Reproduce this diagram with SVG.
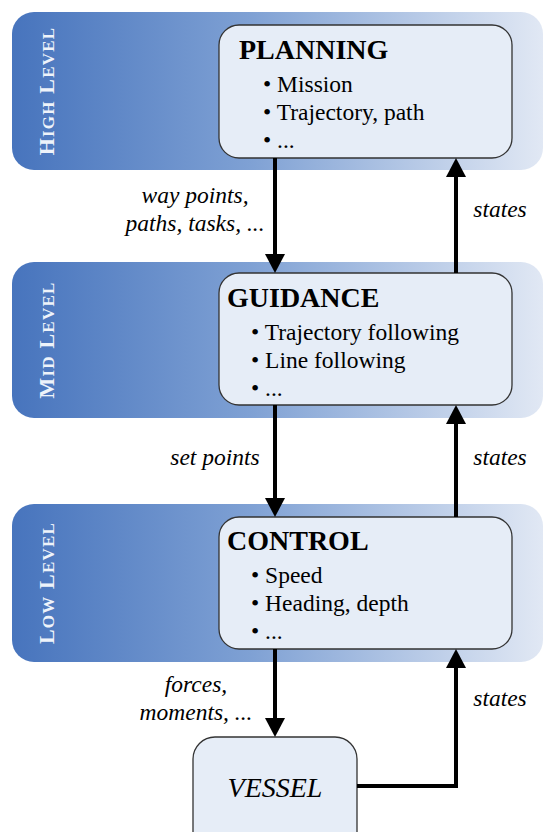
<svg xmlns="http://www.w3.org/2000/svg" width="544" height="832" viewBox="0 0 544 832" font-family="Liberation Serif, serif">
  <defs>
    <linearGradient id="band" x1="0" y1="0" x2="1" y2="0">
      <stop offset="0" stop-color="#4774bd"/>
      <stop offset="0.45" stop-color="#7fa1d4"/>
      <stop offset="1" stop-color="#e1e8f4"/>
    </linearGradient>
    <marker id="ah" viewBox="0 0 19 20" markerWidth="19" markerHeight="20" refX="0" refY="10" orient="auto" markerUnits="userSpaceOnUse">
      <path d="M0,0 L19,10 L0,20 z" fill="#000"/>
    </marker>
    <style>
      .band { fill: url(#band); }
      .lvl { font-weight: bold; fill: #eef3fa; letter-spacing: 1.2px; }
      .box { fill: #e6edf7; stroke: #333; stroke-width: 1.3; }
      .title { font-weight: bold; font-size: 28px; fill: #000; }
      .item { font-size: 23.5px; fill: #000; }
      .lab { font-style: italic; font-size: 23.5px; fill: #000; }
      .big { font-size: 28px; }
      .conn { fill: none; stroke: #000; stroke-width: 4; marker-end: url(#ah); }
    </style>
  </defs>

  <g id="band-high">
    <rect class="band" x="12" y="12" width="531" height="158" rx="22"/>
    <text class="lvl" transform="translate(54,91) rotate(-90)" text-anchor="middle"><tspan font-size="22">H</tspan><tspan font-size="17">IGH</tspan><tspan font-size="22"> L</tspan><tspan font-size="17">EVEL</tspan></text>
  </g>
  <g id="band-mid">
    <rect class="band" x="12" y="262" width="531" height="156" rx="22"/>
    <text class="lvl" transform="translate(54,340) rotate(-90)" text-anchor="middle"><tspan font-size="22">M</tspan><tspan font-size="17">ID</tspan><tspan font-size="22"> L</tspan><tspan font-size="17">EVEL</tspan></text>
  </g>
  <g id="band-low">
    <rect class="band" x="12" y="504" width="531" height="158" rx="22"/>
    <text class="lvl" transform="translate(54,583) rotate(-90)" text-anchor="middle"><tspan font-size="22">L</tspan><tspan font-size="17">OW</tspan><tspan font-size="22"> L</tspan><tspan font-size="17">EVEL</tspan></text>
  </g>

  <g id="planning">
    <rect class="box" x="219" y="25" width="293" height="133" rx="20"/>
    <text class="title" x="239" y="59">PLANNING</text>
    <text class="item" x="263" y="92">• Mission</text>
    <text class="item" x="263" y="120">• Trajectory, path</text>
    <text class="item" x="263" y="148">• ...</text>
  </g>
  <g id="guidance">
    <rect class="box" x="219" y="273" width="293" height="132" rx="20"/>
    <text class="title" x="227" y="307">GUIDANCE</text>
    <text class="item" x="251" y="340">• Trajectory following</text>
    <text class="item" x="251" y="368">• Line following</text>
    <text class="item" x="251" y="396">• ...</text>
  </g>
  <g id="control">
    <rect class="box" x="219" y="517" width="293" height="132" rx="20"/>
    <text class="title" x="227" y="550">CONTROL</text>
    <text class="item" x="251" y="583">• Speed</text>
    <text class="item" x="251" y="611">• Heading, depth</text>
    <text class="item" x="251" y="639">• ...</text>
  </g>
  <g id="vessel">
    <rect class="box" x="193" y="737" width="164" height="130" rx="22"/>
    <text class="lab big" x="275" y="797" text-anchor="middle">VESSEL</text>
  </g>

  <g id="connectors">
    <path class="conn" d="M275,158 V254"/>
    <path class="conn" d="M456,273 V177"/>
    <path class="conn" d="M275,405 V498"/>
    <path class="conn" d="M456,517 V424"/>
    <path class="conn" d="M275,649 V718"/>
    <path class="conn" d="M357,786 H456 V668"/>
    <text class="lab" x="195" y="203" text-anchor="middle">way points,</text>
    <text class="lab" x="195" y="231" text-anchor="middle">paths, tasks, ...</text>
    <text class="lab" x="500" y="217" text-anchor="middle">states</text>
    <text class="lab" x="215" y="465" text-anchor="middle">set points</text>
    <text class="lab" x="500" y="465" text-anchor="middle">states</text>
    <text class="lab" x="196" y="692" text-anchor="middle">forces,</text>
    <text class="lab" x="196" y="720" text-anchor="middle">moments, ...</text>
    <text class="lab" x="500" y="706" text-anchor="middle">states</text>
  </g>
</svg>
